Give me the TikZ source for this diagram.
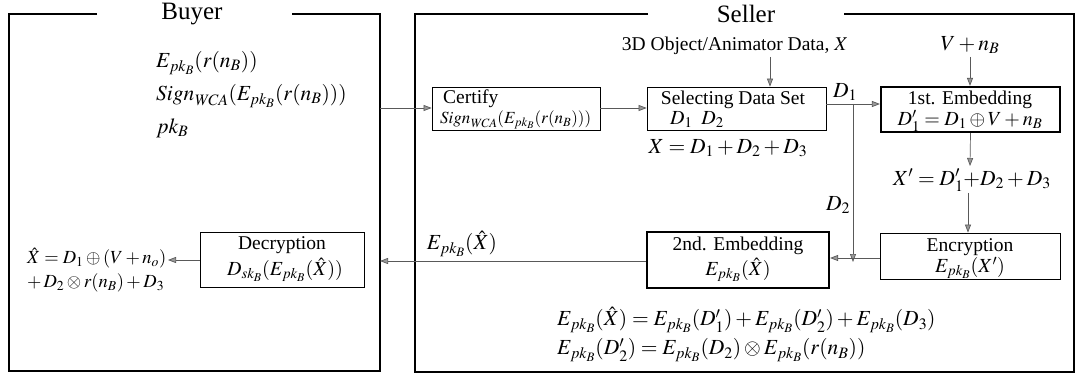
\documentclass[tikz,border=0pt]{standalone}
\usepackage{mathptmx}
\usepackage[no-math]{fontspec}
\setmainfont{Liberation Serif}
\usetikzlibrary{arrows.meta}
\begin{document}
\begin{tikzpicture}[x=1pt,y=-1pt,
 panel/.style={line width=1.7pt},
 thinbox/.style={draw, line width=0.8pt, inner sep=0pt},
 thickbox/.style={draw, line width=2.2pt, inner sep=0pt},
 txt/.style={inner sep=0pt, font=\fontsize{19.5}{22}\selectfont},
 leftmath/.style={inner sep=0pt, font=\fontsize{18.5}{21}\selectfont},
 boxmath/.style={inner sep=0pt, font=\fontsize{20}{22}\selectfont},
 bigmath/.style={inner sep=0pt, font=\fontsize{21.5}{24}\selectfont},
 smalltxt/.style={inner sep=0pt, font=\fontsize{17}{19}\selectfont},
 titletxt/.style={inner sep=0pt, font=\fontsize{25}{28}\selectfont},
 arr/.style={draw=black!65, line width=0.7pt, -{Triangle[length=8pt,width=6pt,fill=black!40]}},
 plainline/.style={draw=black!65, line width=0.7pt}]
\useasboundingbox (0,0) rectangle (1080,377);

% panels
\draw[panel] (97,14) -- (9,14) -- (9,371) -- (380,371) -- (380,14) -- (292,14);
\node[titletxt] (buyer) at (192,14) {Buyer};
\draw[panel] (648,14) -- (415,14) -- (415,372) -- (1074,372) -- (1074,14) -- (844,14);
\node[titletxt] (seller) at (746,14) {Seller};

% buyer texts
\node[bigmath, anchor=west] (b1) at (156,63) {$E_{pk_B}(r(n_B))$};
\node[bigmath, anchor=west] (b2) at (156,96) {$\mathit{Sign}_{\mathit{WCA}}(E_{pk_B}(r(n_B)))$};
\node[bigmath, anchor=west] (b3) at (156,128) {$pk_B$};

% boxes
\node[thinbox, minimum width=168pt, minimum height=43pt] (certify) at (516,108.5) {};
\node[thinbox, minimum width=179pt, minimum height=43pt] (select) at (736.5,108.5) {};
\node[thickbox, minimum width=179pt, minimum height=45pt] (emb1) at (970.5,109.5) {};
\node[thinbox, minimum width=180pt, minimum height=46pt] (encr) at (970,256) {};
\node[thickbox, minimum width=182pt, minimum height=56pt] (emb2) at (738,260) {};
\node[thinbox, minimum width=164pt, minimum height=55pt] (decr) at (282,259.5) {};

% box texts
\node[txt, anchor=west] (certt) at (443,99) {Certify};
\node[smalltxt, anchor=west] (certs) at (440,120) {$\mathit{Sign}_{\mathit{WCA}}(E_{pk_B}(r(n_B)))$};
\node[txt] (selt) at (733,100) {Selecting Data Set};
\node[boxmath] (seld) at (697,120) {$D_1\;\;D_2$};
\node[txt] (e1t) at (970,100) {1st. Embedding};
\node[boxmath] (e1e) at (970,121) {$D'_1 = D_1 \oplus V + n_B$};
\node[txt] (enct) at (970,247) {Encryption};
\node[boxmath] (ence) at (970,268) {$E_{pk_B}(X')$};
\node[txt] (e2t) at (738,246) {2nd. Embedding};
\node[boxmath] (e2e) at (738,270) {$E_{pk_B}(\hat{X})$};
\node[txt] (dect) at (282,245) {Decryption};
\node[boxmath] (dece) at (285,270) {$D_{sk_B}(E_{pk_B}(\hat{X}))$};

% free texts
\node[txt] (obj) at (735,46) {3D Object/Animator Data, $X$};
\node[bigmath] (vn) at (970,45) {$V + n_B$};
\node[bigmath] (xeq) at (728,148) {$X = D_1 + D_2 + D_3$};
\node[bigmath] (xp) at (972,180) {$X' = D'_1 {+} D_2 + D_3$};
\node[bigmath] (d1l) at (845,92) {$D_1$};
\node[bigmath] (d2l) at (838,205) {$D_2$};
\node[bigmath] (exl) at (462,244) {$E_{pk_B}(\hat{X})$};
\node[leftmath, anchor=west] (xh1) at (27,258) {$\hat{X} = D_1 \oplus (V + n_o)$};
\node[leftmath, anchor=west] (xh2) at (27,283) {$+\, D_2 \otimes r(n_B) + D_3$};
\node[bigmath, anchor=west] (eq1) at (557,320) {$E_{pk_B}(\hat{X}) = E_{pk_B}(D'_1) + E_{pk_B}(D'_2) + E_{pk_B}(D_3)$};
\node[bigmath, anchor=west] (eq2) at (557,350) {$E_{pk_B}(D'_2) = E_{pk_B}(D_2) \otimes E_{pk_B}(r(n_B))$};

% coordinates
\coordinate (buyerR1) at (380,108);
\coordinate (buyerR2) at (380,261);
\coordinate (objB) at (770,57);
\coordinate (vnB) at (970,57);
\coordinate (br) at (853,104);
\coordinate (brB) at (853,258);
\coordinate (e1down) at (970,166);
\coordinate (xpB) at (968,193);
\coordinate (xhR) at (168,260);

% connectors
\draw[arr] (buyerR1) -- (certify.west |- buyerR1);
\draw[arr] (certify.east |- buyerR1) -- (select.west |- buyerR1);
\draw[arr] (objB) -- (objB |- select.north);
\draw[arr] (vnB) -- (vnB |- emb1.north);
\draw[arr] (select.east |- br) -- (emb1.west |- br);
\draw[arr] (br) -- ([yshift=-4pt]brB);
\draw[arr] (emb1.south) -- (e1down);
\draw[arr] (xpB) -- (xpB |- encr.north);
\draw[arr] (encr.west |- brB) -- (emb2.east |- brB);
\draw[arr] (emb2.west |- buyerR2) -- (buyerR2);
\draw[arr] (decr.west |- xhR) -- (xhR);
\end{tikzpicture}
\end{document}
